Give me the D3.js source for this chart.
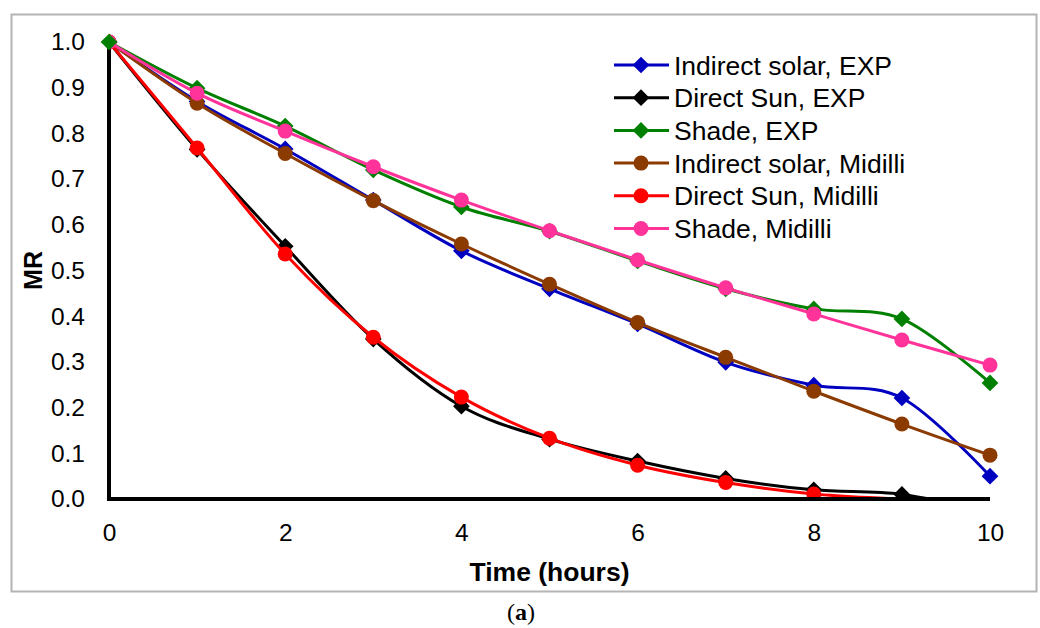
<!DOCTYPE html>
<html>
<head>
<meta charset="utf-8">
<script src="https://cdn.jsdelivr.net/npm/d3@7"></script>
<style>
  html, body { margin: 0; padding: 0; background: #fff; }
  svg { display: block; }
</style>
</head>
<body>
<script>
// ── Data ───────────────────────────────────────────────────────────────────
const hours = [0, 1, 2, 3, 4, 5, 6, 7, 8, 9, 10];
const indirectExp     = [1.0, 0.870, 0.766, 0.654, 0.543, 0.460, 0.383, 0.299, 0.249, 0.221, 0.050];
const directExp       = [1.0, 0.765, 0.553, 0.350, 0.203, 0.131, 0.083, 0.045, 0.020, 0.010, -0.030];
const shadeExp        = [1.0, 0.899, 0.816, 0.720, 0.639, 0.586, 0.521, 0.460, 0.416, 0.394, 0.254];
const indirectMidilli = [1.0, 0.866, 0.756, 0.653, 0.558, 0.470, 0.386, 0.310, 0.236, 0.164, 0.096];
const directMidilli   = [1.0, 0.768, 0.536, 0.354, 0.223, 0.133, 0.074, 0.036, 0.011, -0.001, -0.015];
const shadeMidilli    = [1.0, 0.888, 0.805, 0.727, 0.654, 0.587, 0.523, 0.462, 0.405, 0.348, 0.293];

const seriesNames = ['Indirect solar, EXP', 'Direct Sun, EXP', 'Shade, EXP',
                     'Indirect solar, Midilli', 'Direct Sun, Midilli', 'Shade, Midilli'];
const seriesValues = [indirectExp, directExp, shadeExp, indirectMidilli, directMidilli, shadeMidilli];
const seriesColors = ['#0000c0', '#000000', '#008000', '#8b3a00', '#ff0000', '#ff3399'];
const seriesMarkers = ['diamond', 'diamond', 'diamond', 'circle', 'circle', 'circle'];

const xTicks = [0, 2, 4, 6, 8, 10];
const yTicks = [0, 0.1, 0.2, 0.3, 0.4, 0.5, 0.6, 0.7, 0.8, 0.9, 1.0];

// ── Layout ─────────────────────────────────────────────────────────────────
const WIDTH = 1040, HEIGHT = 628;
const PLOT = { left: 109, right: 990, top: 42, bottom: 499 };
const FONT = '"Liberation Sans", Arial, sans-serif';
const MARKER_R = 7.5;

const svg = d3.select('body').append('svg').attr('width', WIDTH).attr('height', HEIGHT);

// grey chart frame
svg.append('rect').attr('x', 11.5).attr('y', 14.5).attr('width', 1025).attr('height', 577)
  .attr('fill', '#fff').attr('stroke', '#b4b4b4').attr('stroke-width', 2);

const x = d3.scaleLinear().domain([0, 10]).range([PLOT.left, PLOT.right]);
const y = d3.scaleLinear().domain([0, 1]).range([PLOT.bottom, PLOT.top]);

// clip so that values below 0 are cut at the axis, like Excel does
svg.append('clipPath').attr('id', 'plotClip').append('rect')
  .attr('x', PLOT.left).attr('y', PLOT.top - 20)
  .attr('width', PLOT.right - PLOT.left + 20).attr('height', PLOT.bottom - PLOT.top + 20);

// tick labels (no tick marks in the reference)
const xAxis = svg.append('g').attr('transform', `translate(0,${PLOT.bottom})`)
  .call(d3.axisBottom(x).tickValues(xTicks).tickSize(0).tickPadding(25).tickFormat(d3.format('d')));
const yAxis = svg.append('g').attr('transform', `translate(${PLOT.left},0)`)
  .call(d3.axisLeft(y).tickValues(yTicks).tickSize(0).tickPadding(24).tickFormat(d3.format('.1f')));
[xAxis, yAxis].forEach(axis => {
  axis.select('.domain').remove();
  axis.selectAll('text').attr('font-family', FONT).attr('font-size', 24.5).attr('fill', '#000');
});

// series lines + markers
const line = d3.line()
  .x((v, i) => x(hours[i]))
  .y(v => y(v))
  .curve(d3.curveCatmullRom.alpha(0));

const plotLayer = svg.append('g').attr('clip-path', 'url(#plotClip)');
const diamond = d3.symbol().type(d3.symbolSquare).size(140);

seriesValues.forEach((values, s) => {
  plotLayer.append('path').datum(values)
    .attr('d', line).attr('fill', 'none')
    .attr('stroke', seriesColors[s]).attr('stroke-width', 3);

  // points below the axis minimum get no marker
  const points = values.map((v, i) => ({ t: hours[i], v })).filter(p => p.v >= 0);
  if (seriesMarkers[s] === 'diamond') {
    plotLayer.selectAll(null).data(points).join('path')
      .attr('d', diamond)
      .attr('transform', p => `translate(${x(p.t)},${y(p.v)}) rotate(45)`)
      .attr('fill', seriesColors[s]);
  } else {
    plotLayer.selectAll(null).data(points).join('circle')
      .attr('cx', p => x(p.t)).attr('cy', p => y(p.v)).attr('r', MARKER_R)
      .attr('fill', seriesColors[s]);
  }
});

// thick axis lines drawn above the data
svg.append('path')
  .attr('d', `M${PLOT.left},${PLOT.top}V${PLOT.bottom}H${PLOT.right}`)
  .attr('fill', 'none').attr('stroke', '#000').attr('stroke-width', 4);

// the green marker at t=0 sits on top of the axis corner in the reference
svg.append('path').attr('d', diamond)
  .attr('transform', `translate(${x(hours[0])},${y(shadeExp[0])}) rotate(45)`)
  .attr('fill', seriesColors[2]);

// axis titles
svg.append('text').attr('x', (PLOT.left + PLOT.right) / 2).attr('y', 581)
  .attr('text-anchor', 'middle').attr('font-family', FONT).attr('font-size', 26.5)
  .attr('font-weight', 'bold').text('Time (hours)');
svg.append('text').attr('transform', `translate(42,${(PLOT.top + PLOT.bottom) / 2}) rotate(-90)`)
  .attr('text-anchor', 'middle').attr('font-family', FONT).attr('font-size', 25)
  .attr('font-weight', 'bold').text('MR');

// legend
const legend = svg.append('g').attr('transform', 'translate(614,65)');
seriesNames.forEach((name, s) => {
  const row = legend.append('g').attr('transform', `translate(0,${s * 32.7})`);
  row.append('line').attr('x1', 0).attr('x2', 55).attr('y1', 0).attr('y2', 0)
    .attr('stroke', seriesColors[s]).attr('stroke-width', 3);
  if (seriesMarkers[s] === 'diamond') {
    row.append('path').attr('d', diamond).attr('transform', 'translate(27,0) rotate(45)')
      .attr('fill', seriesColors[s]);
  } else {
    row.append('circle').attr('cx', 27).attr('cy', 0).attr('r', MARKER_R).attr('fill', seriesColors[s]);
  }
  row.append('text').attr('x', 60).attr('y', 0).attr('dy', '0.36em')
    .attr('font-family', FONT).attr('font-size', 26.5).attr('fill', '#000').text(name);
});

// panel caption
const caption = svg.append('text').attr('x', 521).attr('y', 620).attr('text-anchor', 'middle')
  .attr('font-family', '"Liberation Serif", "Times New Roman", serif').attr('font-size', 24);
caption.append('tspan').text('(');
caption.append('tspan').attr('font-weight', 'bold').text('a');
caption.append('tspan').text(')');
</script>
</body>
</html>
